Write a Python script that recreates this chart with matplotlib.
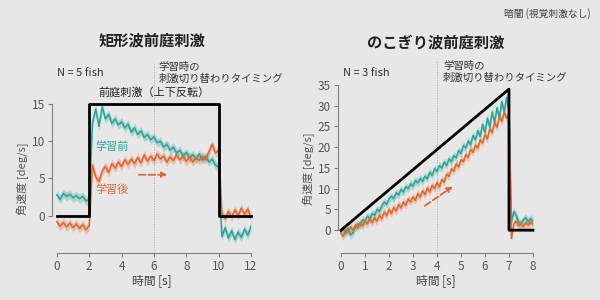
import numpy as np
import matplotlib.pyplot as plt

plt.rcParams['font.family'] = ['Noto Sans CJK JP', 'DejaVu Sans']

# rectangular-wave stimulation (left)
rect_t = np.arange(61) * 0.2
rect_stim_t = [0, 2, 2, 10, 10, 12]
rect_stim = [0, 0, 15, 15, 0, 0]
rect_before = [2.8, 2.2, 3.0, 2.6, 2.9, 2.4, 2.7, 2.3, 2.6, 2.0, 2.2,
               12.5, 14.3, 12.0, 14.6, 13.0, 13.6, 12.4, 13.0, 12.2, 12.6,
               11.8, 12.3, 11.2, 11.8, 10.9, 11.4, 10.5, 10.9, 10.2, 10.6,
               9.8, 10.0, 9.2, 9.6, 8.8, 9.2, 8.4, 8.8, 8.0, 8.5,
               7.8, 8.2, 7.6, 8.3, 7.5, 8.0, 7.2, 7.6, 6.8, 6.5,
               -2.8, -1.6, -3.0, -2.0, -3.2, -2.2, -2.9, -1.8, -2.6, -1.4]
rect_after = [-0.8, -1.4, -0.9, -1.5, -1.0, -1.6, -1.1, -1.7, -1.2, -1.9, -1.3,
              6.8, 5.2, 4.6, 6.0, 6.6, 5.8, 7.0, 6.4, 7.2, 6.6,
              7.5, 6.9, 7.6, 7.0, 7.8, 7.1, 8.2, 7.3, 8.0, 7.4,
              8.3, 7.6, 8.0, 7.2, 7.9, 7.4, 8.2, 7.5, 8.0, 7.3,
              7.9, 7.2, 7.8, 7.4, 8.0, 7.5, 8.6, 9.6, 8.4, 8.8,
              0.3, -0.4, 0.6, -0.2, 0.8, 0.0, 1.0, 0.2, 0.9, -0.3]
rect_sem = 0.6

# sawtooth-wave stimulation (right)
saw_t = np.arange(81) * 0.1
saw_stim_t = [0, 7, 7, 8]
saw_stim = [0, 34, 0, 0]
saw_before = [-0.5, 0.3, -0.8, 0.5, -1.2, -0.6, 0.8, 1.5, 1.2, 2.5,
              2.2, 3.4, 2.8, 4.0, 3.6, 5.0, 4.5, 5.8, 6.8, 6.2,
              7.5, 8.2, 7.6, 9.0, 8.5, 9.8, 9.2, 10.5, 10.0, 11.2,
              10.6, 12.0, 11.4, 12.5, 11.8, 13.0, 12.4, 14.0, 13.2, 14.8,
              14.2, 15.5, 15.0, 16.4, 15.6, 17.2, 16.5, 18.0, 17.4, 19.2,
              18.5, 20.4, 19.8, 21.5, 20.6, 22.8, 21.8, 24.0, 22.6, 25.5,
              23.5, 27.0, 24.8, 28.5, 26.0, 29.5, 27.0, 31.0, 28.5, 32.0,
              29.0, 2.0, 4.5, 3.5, 2.0, 1.5, 2.5, 3.0, 2.0, 2.8, 2.2]
saw_after = [-0.8, -1.5, 0.2, -0.5, 0.8, 0.0, 1.2, 0.5, 1.8, 1.0,
             2.2, 1.5, 2.8, 1.8, 3.0, 2.2, 3.6, 2.8, 4.4, 3.5,
             5.0, 4.0, 5.5, 4.6, 6.2, 5.4, 6.8, 6.0, 7.5, 6.8,
             8.0, 7.2, 8.8, 8.0, 9.5, 8.6, 10.2, 9.2, 10.8, 10.0,
             11.5, 10.4, 12.2, 11.6, 13.5, 13.0, 14.8, 14.2, 16.0, 15.2,
             17.0, 16.5, 18.2, 17.5, 19.5, 18.8, 20.5, 19.8, 21.8, 21.0,
             23.0, 22.0, 24.5, 23.5, 26.0, 24.8, 27.5, 26.2, 28.5, 27.0,
             28.0, -2.0, 1.5, 2.2, 1.0, 1.6, 0.8, 1.8, 1.2, 2.0, 1.4]
saw_sem = 1.0

teal = '#2aa89a'
orange = '#e2692d'
bg = '#e7e7e7'
axc = '#808080'

fig = plt.figure(figsize=(6, 3), dpi=100, facecolor=bg)
ax1 = fig.add_axes([0.0867, 0.1567, 0.3317, 0.4967])
ax2 = fig.add_axes([0.5633, 0.1567, 0.325, 0.56])

for ax in (ax1, ax2):
    ax.set_facecolor(bg)
    for s in ('top', 'right'):
        ax.spines[s].set_visible(False)
    for s in ('left', 'bottom'):
        ax.spines[s].set_color(axc)
        ax.spines[s].set_linewidth(0.8)
    ax.tick_params(direction='out', length=3, width=0.8, color=axc,
                   labelsize=8.5, labelcolor='#555555', pad=2)
    ax.set_xlabel('時間 [s]', fontsize=8.5, color='#444444', labelpad=1)
    ax.set_ylabel('角速度 [deg/s]', fontsize=8, color='#555555', labelpad=2)

# left panel
ax1.set_xlim(-0.3, 12)
ax1.set_ylim(-5, 15)
ax1.spines['left'].set_bounds(0, 15)
ax1.spines['bottom'].set_bounds(0, 12)
ax1.set_xticks(range(0, 13, 2))
ax1.set_yticks([0, 5, 10, 15])
ax1.plot([6, 6], [-5, 20.3], color='#aaaaaa', lw=0.7, ls=':', clip_on=False)
for y, c in ((rect_before, teal), (rect_after, orange)):
    y = np.array(y)
    ax1.fill_between(rect_t, y - rect_sem, y + rect_sem, color=c, alpha=0.3, lw=0)
    ax1.plot(rect_t, y, color=c, lw=1.2)
ax1.plot(rect_stim_t, rect_stim, color='black', lw=2, clip_on=False)
ax1.text(2.4, 9.3, '学習前', color=teal, fontsize=8, va='center')
ax1.text(2.4, 3.5, '学習後', color=orange, fontsize=8, va='center')
ax1.annotate('', xy=(7.0, 5.5), xytext=(4.9, 5.5),
             arrowprops=dict(arrowstyle='-|>', color=orange, lw=1.3, ls='--',
                             mutation_scale=8))
ax1.text(6, 16.5, '前庭刺激（上下反転）', fontsize=8, ha='center', va='center',
         color='#222222')
ax1.text(6.3, 19.2, '学習時の\n刺激切り替わりタイミング', fontsize=7.5,
         ha='left', va='center', color='#333333', linespacing=1.2)
ax1.text(0.0, 19.2, 'N = 5 fish', fontsize=8, color='#333333', va='center')
ax1.set_title('矩形波前庭刺激', fontsize=11, fontweight='bold', pad=42,
              color='#222222', x=0.5)

# right panel
ax2.set_xlim(-0.125, 8)
ax2.set_ylim(-5.5, 35)
ax2.spines['left'].set_bounds(0, 35)
ax2.spines['bottom'].set_bounds(0, 8)
ax2.set_xticks(range(0, 9))
ax2.set_yticks(range(0, 36, 5))
ax2.plot([4, 4], [-5.5, 41], color='#aaaaaa', lw=0.7, ls=':', clip_on=False)
for y, c in ((saw_before, teal), (saw_after, orange)):
    y = np.array(y)
    ax2.fill_between(saw_t, y - saw_sem, y + saw_sem, color=c, alpha=0.3, lw=0)
    ax2.plot(saw_t, y, color=c, lw=1.2)
ax2.plot(saw_stim_t, saw_stim, color='black', lw=2, clip_on=False)
ax2.annotate('', xy=(4.75, 10.9), xytext=(3.4, 5.5),
             arrowprops=dict(arrowstyle='-|>', color=orange, lw=1.3, ls='--',
                             mutation_scale=8))
ax2.text(4.25, 38.2, '学習時の\n刺激切り替わりタイミング', fontsize=7.5,
         ha='left', va='center', color='#333333', linespacing=1.2)
ax2.text(0.1, 37.9, 'N = 3 fish', fontsize=8, color='#333333', va='center')
ax2.set_title('のこぎり波前庭刺激', fontsize=11, fontweight='bold', pad=27,
              color='#222222')

fig.text(0.985, 0.955, '暗闇 (視覚刺激なし)', fontsize=7, ha='right', va='center',
         color='#444444')

fig.savefig('out.png', dpi=100, facecolor=bg)
